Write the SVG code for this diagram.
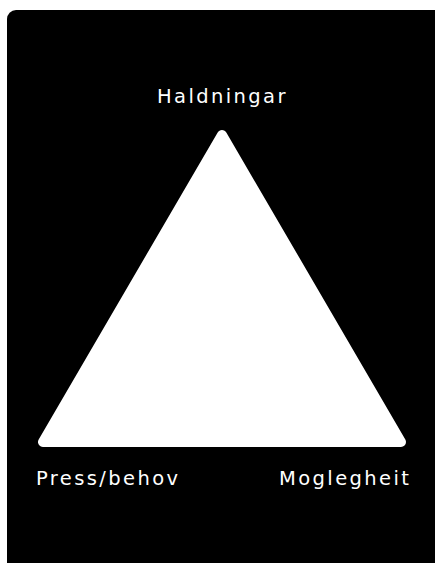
<svg xmlns="http://www.w3.org/2000/svg" width="435" height="563" viewBox="0 0 435 563">
<style>
.lbl{font-family:"DejaVu Sans",sans-serif;font-size:19.5px;fill:#fff;letter-spacing:2.4px}
</style>
<rect x="0" y="0" width="435" height="563" fill="#fff"/>
<g id="panel"><rect x="7" y="10" width="440" height="570" rx="9" fill="#000"/></g>
<g id="triangle"><polygon points="222,135 43,442 401,442" fill="#fff" stroke="#fff" stroke-width="10" stroke-linejoin="round"/></g>
<g id="connectors"></g>
<g id="n-haldningar"><text class="lbl" x="157" y="102.5">Haldningar</text></g>
<g id="n-press"><text class="lbl" x="36" y="485">Press/behov</text></g>
<g id="n-moglegheit"><text class="lbl" x="279" y="485">Moglegheit</text></g>
</svg>
